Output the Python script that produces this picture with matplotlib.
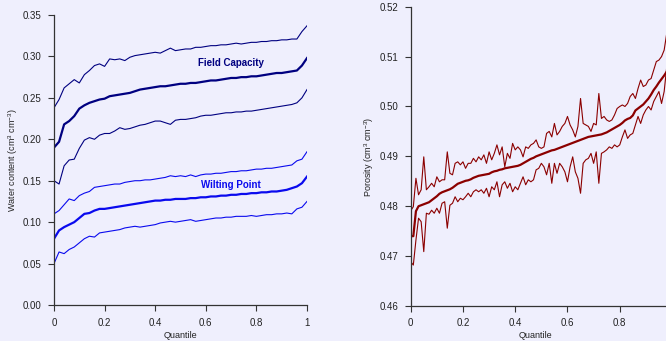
import numpy as np
import matplotlib
matplotlib.use('Agg')
import matplotlib.pyplot as plt

plt.rcParams['font.family'] = ['Liberation Sans', 'DejaVu Sans']
plt.rcParams['mathtext.default'] = 'regular'

# Water content quantiles (step 0.02)
q_wc = np.round(np.arange(0, 1.0001, 0.02), 2)

fc_mid = [0.190, 0.197, 0.218, 0.222, 0.228, 0.237, 0.241, 0.244, 0.246, 0.248,
          0.249, 0.252, 0.253, 0.254, 0.255, 0.256, 0.258, 0.260, 0.261, 0.262,
          0.263, 0.264, 0.264, 0.265, 0.266, 0.267, 0.267, 0.268, 0.268, 0.269,
          0.270, 0.271, 0.271, 0.272, 0.273, 0.274, 0.274, 0.275, 0.275, 0.276,
          0.276, 0.277, 0.278, 0.279, 0.280, 0.280, 0.281, 0.282, 0.283, 0.289,
          0.298]
fc_hi = [0.238, 0.248, 0.262, 0.267, 0.272, 0.268, 0.278, 0.283, 0.289, 0.291,
         0.288, 0.297, 0.296, 0.297, 0.295, 0.299, 0.301, 0.302, 0.303, 0.304,
         0.305, 0.304, 0.307, 0.310, 0.307, 0.308, 0.309, 0.309, 0.311, 0.311,
         0.312, 0.313, 0.313, 0.314, 0.314, 0.315, 0.316, 0.315, 0.316, 0.317,
         0.317, 0.318, 0.318, 0.319, 0.319, 0.320, 0.320, 0.321, 0.321, 0.330,
         0.337]
fc_lo = [0.150, 0.146, 0.168, 0.175, 0.176, 0.189, 0.199, 0.202, 0.200, 0.205,
         0.207, 0.207, 0.210, 0.214, 0.212, 0.213, 0.215, 0.217, 0.218, 0.220,
         0.222, 0.222, 0.220, 0.218, 0.223, 0.224, 0.224, 0.225, 0.226, 0.228,
         0.229, 0.229, 0.230, 0.231, 0.232, 0.232, 0.233, 0.233, 0.234, 0.234,
         0.235, 0.236, 0.237, 0.238, 0.239, 0.240, 0.241, 0.242, 0.244, 0.250,
         0.260]

wp_mid = [0.080, 0.090, 0.094, 0.097, 0.100, 0.105, 0.110, 0.111, 0.114, 0.116,
          0.116, 0.117, 0.118, 0.119, 0.120, 0.121, 0.122, 0.123, 0.124, 0.125,
          0.126, 0.126, 0.127, 0.127, 0.128, 0.128, 0.128, 0.129, 0.129, 0.130,
          0.130, 0.131, 0.131, 0.132, 0.132, 0.133, 0.133, 0.134, 0.134, 0.135,
          0.135, 0.136, 0.136, 0.137, 0.137, 0.138, 0.139, 0.141, 0.143, 0.147,
          0.155]
wp_hi = [0.110, 0.114, 0.121, 0.128, 0.126, 0.132, 0.135, 0.137, 0.142, 0.143,
         0.144, 0.145, 0.146, 0.146, 0.148, 0.149, 0.150, 0.150, 0.151, 0.151,
         0.152, 0.153, 0.154, 0.156, 0.155, 0.156, 0.155, 0.157, 0.155, 0.157,
         0.158, 0.158, 0.159, 0.159, 0.160, 0.161, 0.161, 0.162, 0.162, 0.163,
         0.164, 0.164, 0.165, 0.165, 0.166, 0.167, 0.168, 0.169, 0.174, 0.176,
         0.185]
wp_lo = [0.050, 0.064, 0.062, 0.067, 0.070, 0.075, 0.080, 0.083, 0.082, 0.087,
         0.088, 0.089, 0.090, 0.091, 0.093, 0.094, 0.095, 0.094, 0.095, 0.096,
         0.097, 0.099, 0.100, 0.101, 0.100, 0.101, 0.102, 0.103, 0.101, 0.102,
         0.103, 0.104, 0.105, 0.105, 0.106, 0.106, 0.107, 0.107, 0.107, 0.108,
         0.107, 0.108, 0.109, 0.109, 0.110, 0.110, 0.111, 0.110, 0.116, 0.118,
         0.125]

# Porosity quantiles (step 0.01)
q_por = np.round(np.arange(0, 1.0001, 0.01), 2)

por_mid = [0.4740, 0.4740, 0.4790, 0.4800, 0.4802, 0.4804, 0.4806, 0.4808, 0.4812, 0.4816,
           0.4820, 0.4825, 0.4828, 0.4830, 0.4832, 0.4834, 0.4837, 0.4841, 0.4845, 0.4847,
           0.4849, 0.4851, 0.4852, 0.4854, 0.4857, 0.4859, 0.4861, 0.4862, 0.4863, 0.4864,
           0.4865, 0.4868, 0.4870, 0.4871, 0.4873, 0.4874, 0.4876, 0.4877, 0.4878, 0.4879,
           0.4880, 0.4881, 0.4883, 0.4886, 0.4889, 0.4892, 0.4895, 0.4897, 0.4900, 0.4902,
           0.4904, 0.4906, 0.4908, 0.4910, 0.4912, 0.4913, 0.4915, 0.4917, 0.4919, 0.4921,
           0.4923, 0.4925, 0.4927, 0.4929, 0.4931, 0.4933, 0.4935, 0.4937, 0.4939, 0.4940,
           0.4941, 0.4942, 0.4943, 0.4944, 0.4946, 0.4948, 0.4951, 0.4954, 0.4957, 0.4960,
           0.4963, 0.4967, 0.4972, 0.4975, 0.4977, 0.4982, 0.4992, 0.4996, 0.5000, 0.5004,
           0.5010, 0.5016, 0.5024, 0.5033, 0.5040, 0.5048, 0.5055, 0.5062, 0.5070, 0.5080,
           0.5090]
por_hi = [0.4791, 0.4799, 0.4856, 0.4823, 0.4833, 0.4899, 0.4833, 0.4839, 0.4846, 0.4839,
          0.4859, 0.4849, 0.4853, 0.4853, 0.4909, 0.4866, 0.4863, 0.4886, 0.4889, 0.4883,
          0.4889, 0.4876, 0.4886, 0.4886, 0.4896, 0.4889, 0.4899, 0.4893, 0.4903, 0.4886,
          0.4909, 0.4893, 0.4906, 0.4923, 0.4903, 0.4919, 0.4879, 0.4906, 0.4896, 0.4926,
          0.4913, 0.4919, 0.4913, 0.4899, 0.4919, 0.4916, 0.4923, 0.4926, 0.4933, 0.4919,
          0.4916, 0.4919, 0.4946, 0.4950, 0.4939, 0.4966, 0.4943, 0.4950, 0.4960, 0.4966,
          0.4980, 0.4963, 0.4953, 0.4939, 0.4960, 0.5016, 0.4966, 0.4963, 0.4960, 0.4950,
          0.4966, 0.4963, 0.5026, 0.4976, 0.4980, 0.4973, 0.4970, 0.4973, 0.4983, 0.4996,
          0.5000, 0.5003, 0.5000, 0.5006, 0.5020, 0.5026, 0.5016, 0.5036, 0.5053, 0.5040,
          0.5043, 0.5053, 0.5056, 0.5073, 0.5090, 0.5093, 0.5100, 0.5113, 0.5147, 0.5150,
          0.5160]
por_lo = [0.4689, 0.4682, 0.4732, 0.4776, 0.4769, 0.4709, 0.4786, 0.4784, 0.4792, 0.4786,
          0.4796, 0.4786, 0.4806, 0.4809, 0.4756, 0.4802, 0.4806, 0.4819, 0.4809, 0.4816,
          0.4813, 0.4819, 0.4826, 0.4819, 0.4829, 0.4833, 0.4829, 0.4833, 0.4826, 0.4836,
          0.4819, 0.4839, 0.4833, 0.4849, 0.4819, 0.4843, 0.4849, 0.4836, 0.4846, 0.4829,
          0.4839, 0.4833, 0.4846, 0.4859, 0.4843, 0.4853, 0.4849, 0.4853, 0.4873, 0.4876,
          0.4886, 0.4879, 0.4863, 0.4886, 0.4846, 0.4886, 0.4866, 0.4886, 0.4879, 0.4869,
          0.4849, 0.4879, 0.4899, 0.4869, 0.4856, 0.4826, 0.4886, 0.4893, 0.4896, 0.4906,
          0.4886, 0.4909, 0.4846, 0.4906, 0.4909, 0.4913, 0.4919, 0.4916, 0.4923, 0.4919,
          0.4923, 0.4939, 0.4953, 0.4936, 0.4943, 0.4946, 0.4963, 0.4980, 0.4966, 0.4983,
          0.4993, 0.5000, 0.4993, 0.5010, 0.5020, 0.5030, 0.5006, 0.5030, 0.5080, 0.5090,
          0.5100]

bg = '#EFEFFD'
fc_col = '#000080'
wp_col = '#0A0AEE'
por_col = '#8B0000'
thin, thick = 0.8, 1.6

fig = plt.figure(figsize=(6.66, 3.41), dpi=100, facecolor=bg)

def style(ax):
    ax.set_facecolor(bg)
    for s in ['top', 'right']:
        ax.spines[s].set_visible(False)
    for s in ['left', 'bottom']:
        ax.spines[s].set_color('#333333')
        ax.spines[s].set_linewidth(0.9)
    ax.tick_params(direction='out', length=4, width=0.8, colors='#333333',
                   labelsize=7, labelcolor='#222222', pad=5)

# Left: water content
ax1 = fig.add_axes([54/666, 1-305/341, 253/666, 290/341])
style(ax1)
ax1.plot(q_wc, fc_hi, color=fc_col, lw=thin)
ax1.plot(q_wc, fc_mid, color=fc_col, lw=thick)
ax1.plot(q_wc, fc_lo, color=fc_col, lw=thin)
ax1.plot(q_wc, wp_hi, color=wp_col, lw=thin)
ax1.plot(q_wc, wp_mid, color=wp_col, lw=thick)
ax1.plot(q_wc, wp_lo, color=wp_col, lw=thin)
ax1.set_xlim(0, 1)
ax1.set_ylim(0, 0.35)
ax1.set_xticks([0, 0.2, 0.4, 0.6, 0.8, 1])
ax1.set_xticklabels(['0', '0.2', '0.4', '0.6', '0.8', '1'])
ax1.set_yticks(np.arange(0, 0.351, 0.05))
ax1.set_yticklabels(['%.2f' % v for v in np.arange(0, 0.351, 0.05)])
ax1.text(0.70, 0.292, 'Field Capacity', color=fc_col, fontsize=7, fontweight='bold',
         ha='center', va='center')
ax1.text(0.70, 0.145, 'Wilting Point', color=wp_col, fontsize=7, fontweight='bold',
         ha='center', va='center')
ax1.set_ylabel('Water content (cm$^3$ cm$^{-3}$)', fontsize=6.5, color='#222222')
ax1.yaxis.set_label_coords(-33.5/253, 0.5)
ax1.set_xlabel('Quantile', fontsize=6.5, color='#222222')
ax1.xaxis.set_label_coords(0.5, -26/290)

# Right: porosity (axes runs past the figure edge)
ax2 = fig.add_axes([410.7/666, 1-306/341, 261.3/666, 299.3/341])
style(ax2)
ax2.plot(q_por, por_hi, color=por_col, lw=thin)
ax2.plot(q_por, por_lo, color=por_col, lw=thin)
ax2.plot(q_por, por_mid, color=por_col, lw=thick)
ax2.set_xlim(0, 1)
ax2.set_ylim(0.46, 0.52)
ax2.set_xticks([0, 0.2, 0.4, 0.6, 0.8])
ax2.set_xticklabels(['0', '0.2', '0.4', '0.6', '0.8'])
ax2.set_yticks(np.arange(0.46, 0.5201, 0.01))
ax2.set_yticklabels(['%.2f' % v for v in np.arange(0.46, 0.5201, 0.01)])
ax2.set_ylabel('Porosity (cm$^3$ cm$^{-3}$)', fontsize=6.5, color='#222222')
ax2.yaxis.set_label_coords(-35/261.3, 0.5)
ax2.set_xlabel('Quantile', fontsize=6.5, color='#222222')
ax2.xaxis.set_label_coords(0.476, -25/299.3)

fig.savefig('out.png', dpi=100, facecolor=bg)
